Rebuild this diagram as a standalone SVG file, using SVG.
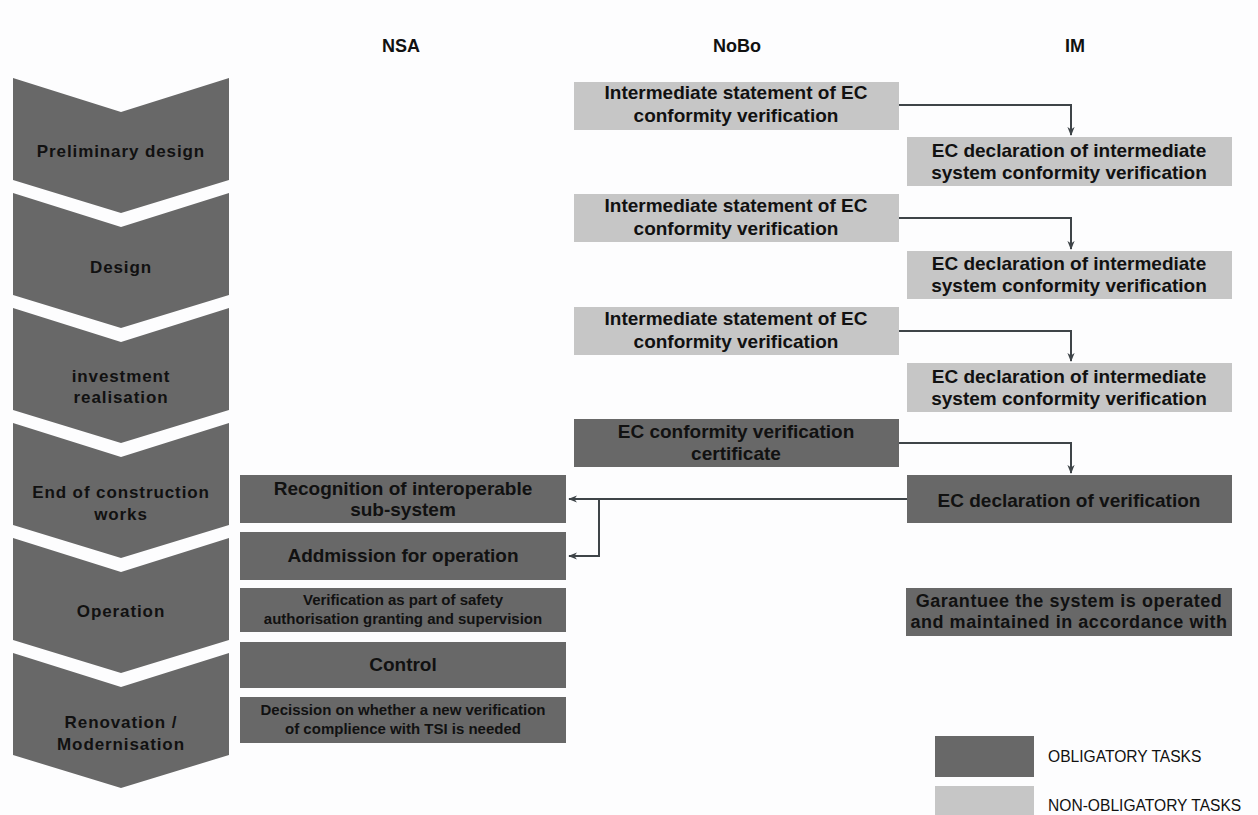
<svg xmlns="http://www.w3.org/2000/svg" width="1258" height="815" viewBox="0 0 1258 815">
<defs>
<style>
.bg{fill:#fdfdfe}
.chev{fill:#686868}
.dark{fill:#686868}
.light{fill:#c6c6c6}
text{font-family:"Liberation Sans",Arial,sans-serif;font-weight:bold;fill:#111;text-anchor:middle}
.hdr{font-size:18px}
.ch{font-size:17px;letter-spacing:0.9px}
.t{font-size:19px}
.s{font-size:15px}
.g{font-size:18px;letter-spacing:0.55px}
.leg{font-size:15.6px;font-weight:normal;text-anchor:start}
.conn{fill:none;stroke:#3e4448;stroke-width:2}
</style>
<marker id="ah" viewBox="0 0 10 10" refX="9" refY="5" markerWidth="9" markerHeight="9" markerUnits="userSpaceOnUse" orient="auto">
<path d="M0,1 L10,5 L0,9 L3,5 Z" fill="#3e4448"/>
</marker>
</defs>
<rect class="bg" x="0" y="0" width="1258" height="815"/>

<g id="headers">
<text class="hdr" x="401" y="52">NSA</text>
<text class="hdr" x="737" y="52">NoBo</text>
<text class="hdr" x="1075" y="52">IM</text>
</g>

<g id="phase-preliminary-design">
<path class="chev" d="M13,78 L121,112 L229,78 L229,180 L121,213 L13,180 Z"/>
<text class="ch" x="121" y="157">Preliminary design</text>
</g>
<g id="phase-design">
<path class="chev" d="M13,193 L121,227 L229,193 L229,295 L121,328 L13,295 Z"/>
<text class="ch" x="121" y="273">Design</text>
</g>
<g id="phase-investment">
<path class="chev" d="M13,308 L121,342 L229,308 L229,410 L121,443 L13,410 Z"/>
<text class="ch" x="121" y="382">investment</text>
<text class="ch" x="121" y="403">realisation</text>
</g>
<g id="phase-end">
<path class="chev" d="M13,423 L121,457 L229,423 L229,525 L121,558 L13,525 Z"/>
<text class="ch" x="121" y="498">End of construction</text>
<text class="ch" x="121" y="520">works</text>
</g>
<g id="phase-operation">
<path class="chev" d="M13,538 L121,572 L229,538 L229,640 L121,673 L13,640 Z"/>
<text class="ch" x="121" y="617">Operation</text>
</g>
<g id="phase-renovation">
<path class="chev" d="M13,653 L121,687 L229,653 L229,755 L121,788 L13,755 Z"/>
<text class="ch" x="121" y="728">Renovation /</text>
<text class="ch" x="121" y="750">Modernisation</text>
</g>

<g id="nobo-1">
<rect class="light" x="574" y="82" width="325" height="48"/>
<text class="t" x="736" y="99">Intermediate statement of EC</text>
<text class="t" x="736" y="122">conformity verification</text>
</g>
<g id="im-1">
<rect class="light" x="907" y="137" width="325" height="49"/>
<text class="t" x="1069" y="157">EC declaration of intermediate</text>
<text class="t" x="1069" y="179">system conformity verification</text>
</g>
<g id="nobo-2">
<rect class="light" x="574" y="194" width="325" height="48"/>
<text class="t" x="736" y="212">Intermediate statement of EC</text>
<text class="t" x="736" y="235">conformity verification</text>
</g>
<g id="im-2">
<rect class="light" x="907" y="251" width="325" height="48"/>
<text class="t" x="1069" y="270">EC declaration of intermediate</text>
<text class="t" x="1069" y="292">system conformity verification</text>
</g>
<g id="nobo-3">
<rect class="light" x="574" y="307" width="325" height="48"/>
<text class="t" x="736" y="325">Intermediate statement of EC</text>
<text class="t" x="736" y="348">conformity verification</text>
</g>
<g id="im-3">
<rect class="light" x="907" y="363" width="325" height="49"/>
<text class="t" x="1069" y="383">EC declaration of intermediate</text>
<text class="t" x="1069" y="405">system conformity verification</text>
</g>
<g id="nobo-cert">
<rect class="dark" x="574" y="419" width="325" height="48"/>
<text class="t" x="736" y="438">EC conformity verification</text>
<text class="t" x="736" y="460">certificate</text>
</g>
<g id="im-decl">
<rect class="dark" x="907" y="475" width="325" height="48"/>
<text class="t" x="1069" y="507">EC declaration of verification</text>
</g>
<g id="im-guarantee">
<rect class="dark" x="906" y="588" width="326" height="48"/>
<text class="g" x="1069" y="607">Garantuee the system is operated</text>
<text class="g" x="1069" y="628">and maintained in accordance with</text>
</g>

<g id="nsa-recognition">
<rect class="dark" x="240" y="475" width="326" height="48"/>
<text class="t" x="403" y="495">Recognition of interoperable</text>
<text class="t" x="403" y="516">sub-system</text>
</g>
<g id="nsa-admission">
<rect class="dark" x="240" y="532" width="326" height="48"/>
<text class="t" x="403" y="562">Addmission for operation</text>
</g>
<g id="nsa-verification">
<rect class="dark" x="240" y="588" width="326" height="44"/>
<text class="s" x="403" y="605">Verification as part of safety</text>
<text class="s" x="403" y="624">authorisation granting and supervision</text>
</g>
<g id="nsa-control">
<rect class="dark" x="240" y="642" width="326" height="46"/>
<text class="t" x="403" y="671">Control</text>
</g>
<g id="nsa-decision">
<rect class="dark" x="240" y="697" width="326" height="46"/>
<text class="s" x="403" y="715">Decission on whether a new verification</text>
<text class="s" x="403" y="734">of complience with TSI is needed</text>
</g>

<g id="connectors">
<path class="conn" d="M899,105 H1071 V135" marker-end="url(#ah)"/>
<path class="conn" d="M899,218 H1071 V249" marker-end="url(#ah)"/>
<path class="conn" d="M899,331 H1071 V361" marker-end="url(#ah)"/>
<path class="conn" d="M899,443 H1071 V473" marker-end="url(#ah)"/>
<path class="conn" d="M907,499 H569" marker-end="url(#ah)"/>
<path class="conn" d="M599,499 V556 H569" marker-end="url(#ah)"/>
</g>

<g id="legend">
<rect class="dark" x="935" y="736" width="99" height="41"/>
<text class="leg" x="1048" y="762">OBLIGATORY TASKS</text>
<rect class="light" x="935" y="786" width="99" height="29"/>
<text class="leg" x="1048" y="811">NON-OBLIGATORY TASKS</text>
</g>
</svg>
